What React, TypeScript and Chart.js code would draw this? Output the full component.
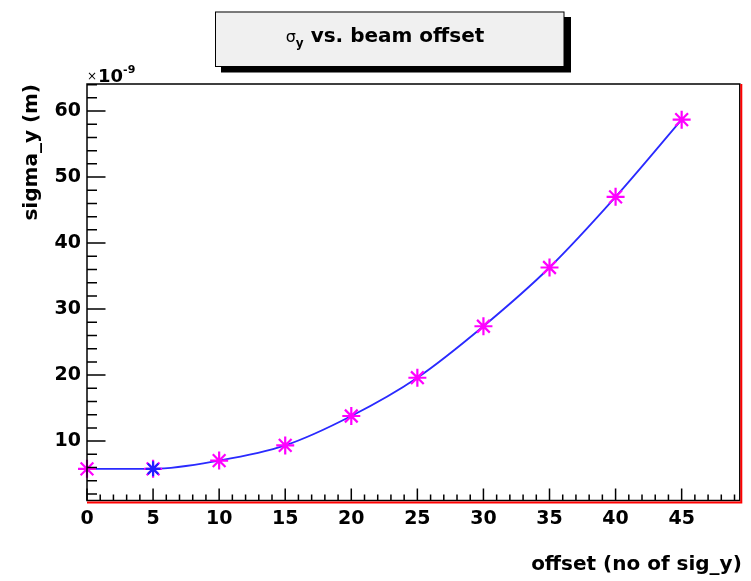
import React, { useEffect, useRef } from "react";
import { Chart, registerables } from "chart.js";

Chart.register(...registerables);

// ---- data ----
const OFFSETS = [0, 5, 10, 15, 20, 25, 30, 35, 40, 45];
const SIGMA_Y = [5.8, 5.8, 7.05, 9.35, 13.8, 19.6, 27.4, 36.3, 47.0, 58.7];
const HIGHLIGHT_X = [5];
const HIGHLIGHT_Y = [5.8];

const X_MAJOR = [0, 5, 10, 15, 20, 25, 30, 35, 40, 45];
const X_MINOR = [1, 2, 3, 4, 6, 7, 8, 9, 11, 12, 13, 14, 16, 17, 18, 19, 21, 22, 23, 24, 26, 27, 28, 29, 31, 32, 33, 34, 36, 37, 38, 39, 41, 42, 43, 44, 46, 47, 48, 49];
const Y_MAJOR = [10, 20, 30, 40, 50, 60];
const Y_MINOR = [2, 4, 6, 8, 12, 14, 16, 18, 22, 24, 26, 28, 32, 34, 36, 38, 42, 44, 46, 48, 52, 54, 56, 58, 62, 64];

const X_RANGE = [0, 49.4];
const Y_RANGE = [1.0, 64.1];

const TITLE_SYMBOL = "σ";
const TITLE_SUB = "y";
const TITLE_REST = " vs. beam offset";
const X_TITLE = "offset (no of sig_y)";
const Y_TITLE = "sigma_y (m)";
const EXP_SIGN = "×";
const EXP_BASE = "10";
const EXP_POWER = "-9";

const FONT = '"DejaVu Sans", sans-serif';

const rootPlugin = {
  id: "rootDecor",
  afterDraw(chart: any) {
    const { ctx, chartArea: a, scales } = chart;
    const xs = scales.x;
    const ys = scales.y;
    ctx.save();

    // title box with shadow
    ctx.fillStyle = "#000";
    ctx.fillRect(221, 17, 350, 55.5);
    ctx.fillStyle = "#f0f0f0";
    ctx.fillRect(215, 11.5, 349, 55);
    ctx.strokeStyle = "#000";
    ctx.lineWidth = 1;
    ctx.strokeRect(215.5, 12, 348.5, 54.5);

    // title text
    ctx.fillStyle = "#000";
    ctx.textBaseline = "alphabetic";
    ctx.textAlign = "left";
    const symFont = `16px ${FONT}`;
    const subFont = `bold 12px ${FONT}`;
    const mainFont = `bold 20px ${FONT}`;
    ctx.font = symFont;
    const w1 = ctx.measureText(TITLE_SYMBOL).width;
    ctx.font = subFont;
    const w2 = ctx.measureText(TITLE_SUB).width;
    ctx.font = mainFont;
    const w3 = ctx.measureText(TITLE_REST).width;
    let tx = 385 - (w1 + w2 + w3) / 2;
    ctx.font = symFont;
    ctx.fillText(TITLE_SYMBOL, tx, 42);
    tx += w1;
    ctx.font = subFont;
    ctx.fillText(TITLE_SUB, tx, 47);
    tx += w2;
    ctx.font = mainFont;
    ctx.fillText(TITLE_REST, tx, 42);

    // frame
    ctx.strokeStyle = "#000";
    ctx.lineWidth = 1.5;
    ctx.strokeRect(a.left, a.top, a.right - a.left, a.bottom - a.top);
    ctx.strokeStyle = "#ff0000";
    ctx.lineWidth = 2;
    ctx.beginPath();
    ctx.moveTo(a.right + 1.5, a.top);
    ctx.lineTo(a.right + 1.5, a.bottom + 3);
    ctx.moveTo(a.left, a.bottom + 2);
    ctx.lineTo(a.right + 2.5, a.bottom + 2);
    ctx.stroke();

    // ticks (inside the frame)
    ctx.strokeStyle = "#000";
    ctx.lineWidth = 1.5;
    ctx.beginPath();
    X_MAJOR.forEach((v) => {
      const px = xs.getPixelForValue(v);
      ctx.moveTo(px, a.bottom);
      ctx.lineTo(px, a.bottom - 12);
    });
    X_MINOR.forEach((v) => {
      const px = xs.getPixelForValue(v);
      ctx.moveTo(px, a.bottom);
      ctx.lineTo(px, a.bottom - 6);
    });
    Y_MAJOR.forEach((v) => {
      const py = ys.getPixelForValue(v);
      ctx.moveTo(a.left, py);
      ctx.lineTo(a.left + 18.5, py);
    });
    Y_MINOR.forEach((v) => {
      const py = ys.getPixelForValue(v);
      ctx.moveTo(a.left, py);
      ctx.lineTo(a.left + 10, py);
    });
    ctx.stroke();

    // tick labels
    ctx.fillStyle = "#000";
    ctx.font = `bold 19px ${FONT}`;
    ctx.textAlign = "center";
    ctx.textBaseline = "middle";
    X_MAJOR.forEach((v) => {
      ctx.fillText(String(v), xs.getPixelForValue(v), a.bottom + 19);
    });
    ctx.textAlign = "right";
    Y_MAJOR.forEach((v) => {
      ctx.fillText(String(v), a.left - 6, ys.getPixelForValue(v));
    });

    // exponent
    ctx.textAlign = "left";
    ctx.textBaseline = "alphabetic";
    ctx.font = `12px ${FONT}`;
    ctx.fillText(EXP_SIGN, a.left, a.top - 4);
    const ws = ctx.measureText(EXP_SIGN).width;
    ctx.font = `bold 18px ${FONT}`;
    ctx.fillText(EXP_BASE, a.left + ws + 1, a.top - 2);
    const we = ctx.measureText(EXP_BASE).width;
    ctx.font = `bold 11px ${FONT}`;
    ctx.fillText(EXP_POWER, a.left + ws + 1 + we, a.top - 11);

    // axis titles
    ctx.font = `bold 20px ${FONT}`;
    ctx.textAlign = "right";
    ctx.fillText(X_TITLE, a.right + 2, 570);

    ctx.save();
    ctx.translate(37, a.top);
    ctx.rotate(-Math.PI / 2);
    ctx.textAlign = "right";
    ctx.textBaseline = "alphabetic";
    ctx.fillText(Y_TITLE, 0, 0);
    ctx.restore();

    ctx.restore();
  },
};

export default function App() {
  const canvasRef = useRef<HTMLCanvasElement | null>(null);

  useEffect(() => {
    const canvas = canvasRef.current;
    if (!canvas) return;
    const points = OFFSETS.map((x, i) => ({ x, y: SIGMA_Y[i] }));
    const highlight = HIGHLIGHT_X.map((x, i) => ({ x, y: HIGHLIGHT_Y[i] }));

    const chart = new Chart(canvas, {
      type: "scatter",
      data: {
        datasets: [
          {
            label: "highlight",
            data: highlight,
            pointStyle: "star",
            pointRadius: 7.5,
            borderColor: "#2020ff",
            backgroundColor: "#2020ff",
            pointBorderWidth: 2.2,
            showLine: false,
            clip: false,
          } as any,
          {
            label: "points",
            data: points,
            pointStyle: "star",
            pointRadius: 9,
            borderColor: "#ff00ff",
            backgroundColor: "#ff00ff",
            pointBorderWidth: 2.2,
            showLine: false,
            clip: false,
          } as any,
          {
            label: "fit",
            data: points,
            showLine: true,
            pointRadius: 0,
            borderColor: "#2a2aff",
            borderWidth: 1.8,
            cubicInterpolationMode: "monotone",
            fill: false,
          } as any,
        ],
      },
      options: {
        animation: false,
        responsive: false,
        devicePixelRatio: 1,
        events: [],
        layout: { padding: { left: 0, top: 84, right: 7, bottom: 0 } },
        plugins: {
          legend: { display: false },
          tooltip: { enabled: false },
          title: { display: false },
        },
        scales: {
          x: {
            type: "linear",
            min: X_RANGE[0],
            max: X_RANGE[1],
            grid: { display: false, drawTicks: false },
            border: { display: false },
            ticks: { display: false },
            afterFit: (s: any) => {
              s.height = 80.5;
            },
          },
          y: {
            type: "linear",
            min: Y_RANGE[0],
            max: Y_RANGE[1],
            grid: { display: false, drawTicks: false },
            border: { display: false },
            ticks: { display: false },
            afterFit: (s: any) => {
              s.width = 87;
            },
          },
        },
      } as any,
      plugins: [rootPlugin],
    });
    return () => chart.destroy();
  }, []);

  return (
    <div
      style={{
        position: "fixed",
        left: 0,
        top: 0,
        width: 751,
        height: 581,
        background: "#fff",
      }}
    >
      <canvas ref={canvasRef} width={751} height={581} style={{ width: 751, height: 581, display: "block" }} />
    </div>
  );
}
